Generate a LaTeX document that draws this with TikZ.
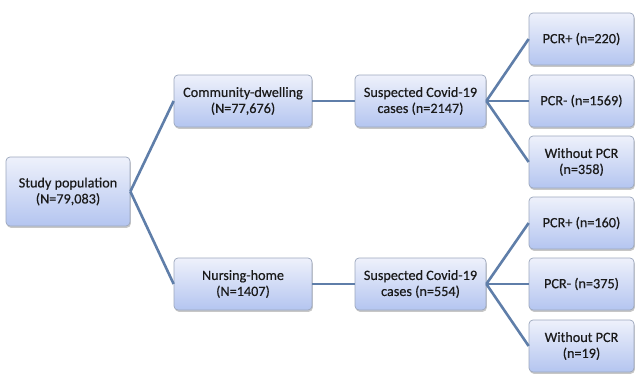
\documentclass[tikz,border=0pt]{standalone}
\usepackage{fontspec}
\setmainfont{Carlito}[FakeBold=0.4]
\usetikzlibrary{shadows}
\definecolor{boxtop}{HTML}{EEF1FB}
\definecolor{boxbot}{HTML}{B4C5F0}
\definecolor{boxline}{HTML}{9CA7BD}
\definecolor{linkc}{HTML}{5F7EA9}
\definecolor{txt}{HTML}{1A1A1A}
\begin{document}
\begin{tikzpicture}[x=1pt,y=-1pt,
  flowbox/.style={draw=boxline, line width=0.7pt, rounded corners=4pt,
    top color=boxtop, bottom color=boxbot, align=center, inner sep=0pt,
    text=txt, font=\fontsize{14.2}{16}\selectfont,
    drop shadow={shadow xshift=0.8pt, shadow yshift=-1.8pt, fill=black, opacity=0.22}},
  link/.style={draw=linkc, line width=2.6pt}]
\useasboundingbox (0,0) rectangle (638,381);
\node[flowbox, minimum width=124pt, minimum height=69pt] (study) at (68,191.5) {Study population\\(N=79,083)};
\node[flowbox, minimum width=138pt, minimum height=52pt] (comm) at (243,101) {Community-dwelling\\(N=77,676)};
\node[flowbox, minimum width=138pt, minimum height=52pt] (nurs) at (243,284) {Nursing-home\\(N=1407)};
\node[flowbox, minimum width=131pt, minimum height=52pt] (sus1) at (420.5,101) {Suspected Covid-19\\cases (n=2147)};
\node[flowbox, minimum width=131pt, minimum height=52pt] (sus2) at (420.5,284) {Suspected Covid-19\\cases (n=554)};
\node[flowbox, minimum width=105pt, minimum height=52pt] (p1) at (581.5,39) {PCR+ (n=220)};
\node[flowbox, minimum width=105pt, minimum height=52pt] (m1) at (581.5,101) {PCR- (n=1569)};
\node[flowbox, minimum width=105pt, minimum height=52pt] (w1) at (581.5,162) {Without PCR\\(n=358)};
\node[flowbox, minimum width=105pt, minimum height=52pt] (p2) at (581.5,223) {PCR+ (n=160)};
\node[flowbox, minimum width=105pt, minimum height=52pt] (m2) at (581.5,284) {PCR- (n=375)};
\node[flowbox, minimum width=105pt, minimum height=52pt] (w2) at (581.5,346) {Without PCR\\(n=19)};
\draw[link] (study.east) -- (comm.west);
\draw[link] (study.east) -- (nurs.west);
\draw[link] (comm.east) -- (sus1.west);
\draw[link] (nurs.east) -- (sus2.west);
\draw[link] (sus1.east) -- (p1.west);
\draw[link] (sus1.east) -- (m1.west);
\draw[link] (sus1.east) -- (w1.west);
\draw[link] (sus2.east) -- (p2.west);
\draw[link] (sus2.east) -- (m2.west);
\draw[link] (sus2.east) -- (w2.west);
\end{tikzpicture}
\end{document}
